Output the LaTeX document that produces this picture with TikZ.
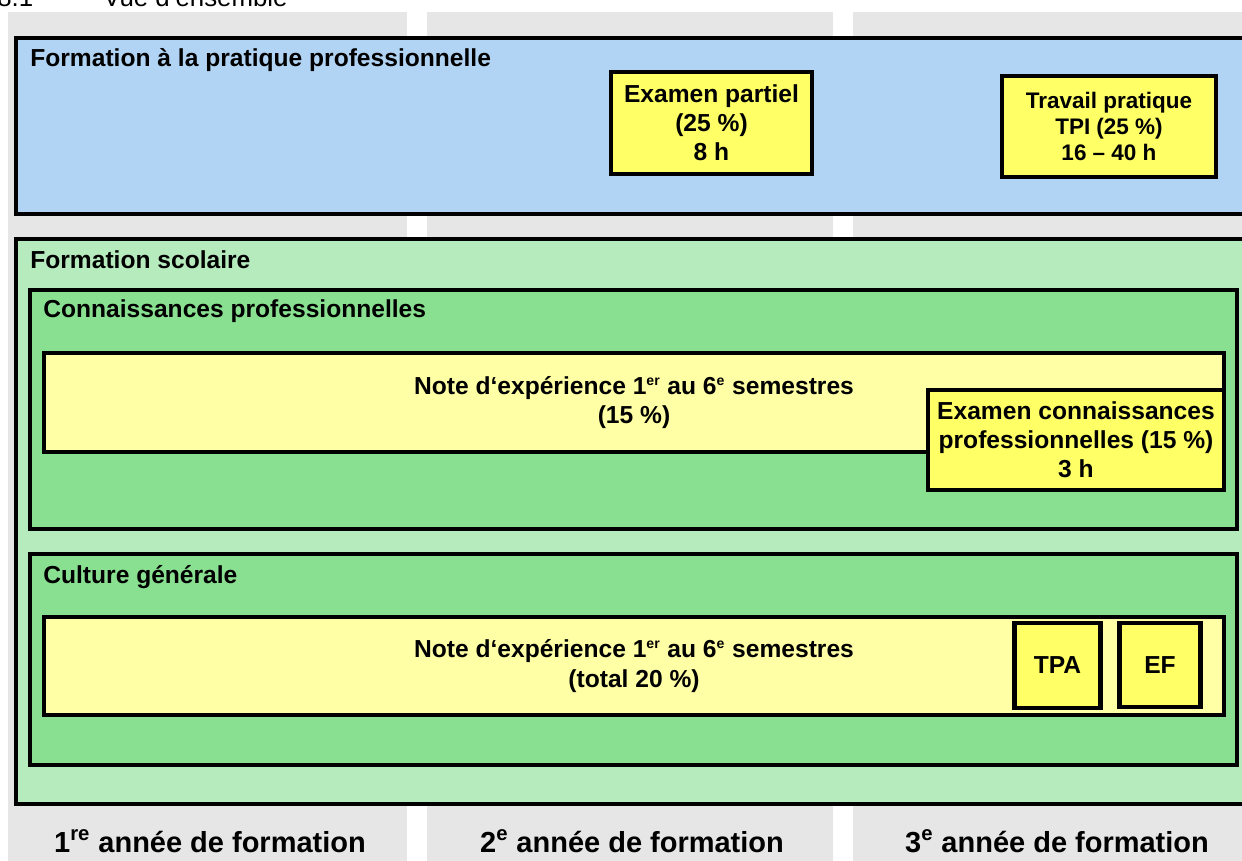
\documentclass[tikz,border=0pt]{standalone}
\usepackage{fontspec}
\setmainfont{Liberation Sans}
\usepackage{tikz}

\definecolor{colgray}{RGB}{230,230,230}
\definecolor{pratiqueblue}{RGB}{178,212,244}
\definecolor{scolairegreen}{RGB}{182,235,190}
\definecolor{branchgreen}{RGB}{136,224,144}
\definecolor{notepale}{RGB}{255,255,166}
\definecolor{examyellow}{RGB}{255,255,102}

\tikzset{
  panel/.style={draw=black,line width=2.6pt},
  boxtxt/.style={font=\fontsize{14}{16.6}\selectfont\bfseries},
  yellowbox/.style={draw=black,line width=2.3pt,fill=examyellow,inner sep=0pt,align=center,boxtxt},
  notebox/.style={draw=black,line width=2.3pt,fill=notepale,inner sep=0pt,align=center,boxtxt},
  heading/.style={anchor=base west,inner sep=0pt,boxtxt},
  yearlabel/.style={anchor=base,inner sep=0pt,font=\fontsize{16.5}{19}\selectfont\bfseries}
}

\begin{document}
\begin{tikzpicture}[x=0.02cm,y=-0.02cm]
\useasboundingbox (0,0) rectangle (1242,860);
% columns of the three years
\fill[colgray] (8,12) rectangle (407,870);
\fill[colgray] (427,12) rectangle (833,870);
\fill[colgray] (853,12) rectangle (1270,870);
% section title, cut at the top
\node[anchor=base west,inner sep=0pt,font=\fontsize{14.7}{17}\selectfont] (numero) at (-3,6) {8.1};
\node[anchor=base west,inner sep=0pt,font=\fontsize{14.7}{17}\selectfont] (titre) at (103,6) {Vue d'ensemble};

% pratique professionnelle
\filldraw[panel,fill=pratiqueblue] (16,38) rectangle (1275,214);
\node[heading] (pratique) at (30,66) {Formation à la pratique professionnelle};
\node[yellowbox,minimum width=4.02cm,minimum height=2.04cm] (partiel) at (711.5,123) {Examen partiel\\(25 \%)\\8 h};
\node[yellowbox,minimum width=4.28cm,minimum height=2.02cm,font=\fontsize{12.8}{15}\selectfont\bfseries] (tpi) at (1109,126.5) {Travail pratique\\TPI (25 \%)\\16 – 40 h};

% formation scolaire
\filldraw[panel,fill=scolairegreen] (16,239) rectangle (1275,804);
\node[heading] (scolaire) at (30,268) {Formation scolaire};

\filldraw[panel,fill=branchgreen] (30,290) rectangle (1237,529);
\node[heading] (connaissances) at (43,317) {Connaissances professionnelles};
\node[notebox,minimum width=23.6cm,minimum height=1.98cm] (note1) at (634,402.5) {Note d‘expérience 1\textsuperscript{\footnotesize er} au 6\textsuperscript{\footnotesize e} semestres\\(15 \%)};
\node[yellowbox,minimum width=5.92cm,minimum height=2.0cm] (examcp) at (1076,440) {Examen connaissances\\professionnelles (15 \%)\\3 h};

\filldraw[panel,fill=branchgreen] (30,554) rectangle (1237,765);
\node[heading] (culture) at (43,583) {Culture générale};
\node[notebox,minimum width=23.6cm,minimum height=1.96cm] (note2) at (634,666) {Note d‘expérience 1\textsuperscript{\footnotesize er} au 6\textsuperscript{\footnotesize e} semestres\\(total 20 \%)};
\node[yellowbox,minimum width=1.72cm,minimum height=1.7cm] (tpa) at (1057.5,665.5) {TPA};
\node[yellowbox,minimum width=1.62cm,minimum height=1.68cm] (ef) at (1160,665) {EF};

% years
\node[yearlabel] (annee1) at (210,852) {1\textsuperscript{re} année de formation};
\node[yearlabel] (annee2) at (632,852) {2\textsuperscript{e} année de formation};
\node[yearlabel] (annee3) at (1057,852) {3\textsuperscript{e} année de formation};
\end{tikzpicture}
\end{document}
